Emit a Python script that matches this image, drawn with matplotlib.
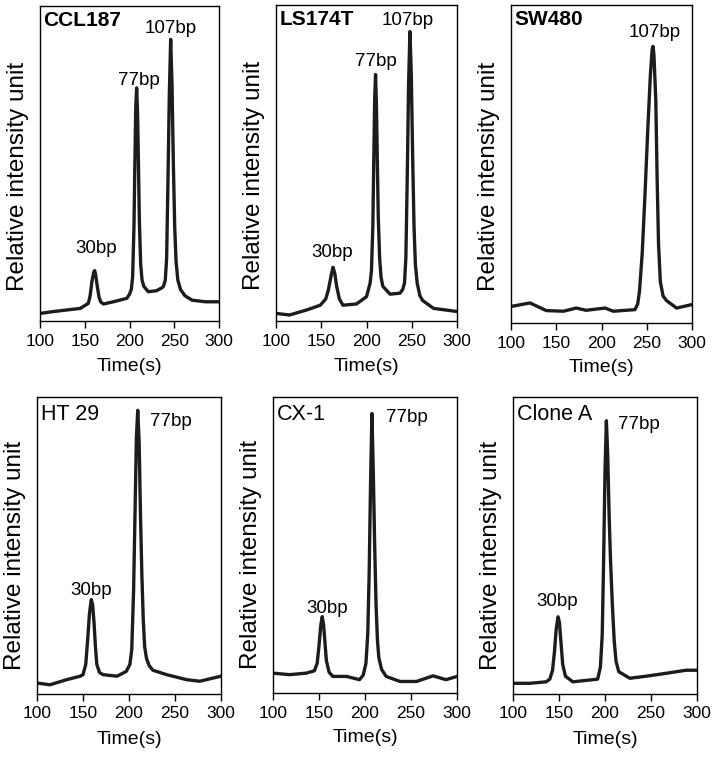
import matplotlib
matplotlib.use("Agg")
import matplotlib.pyplot as plt

plt.rcParams['font.family'] = ['Liberation Sans', 'DejaVu Sans']

# panel titles
names = ['CCL187', 'LS174T', 'SW480', 'HT 29', 'CX-1', 'Clone A']

# traces: time (s) and relative intensity (0..1 of panel height)
ccl187_t = [100, 115, 130, 145, 154, 156, 158, 160, 161, 162, 164, 166, 168, 171, 182,
            197, 200, 202, 203.5, 205, 206, 207, 208, 209, 210, 211, 212.5, 214, 216,
            221, 230, 236, 238, 240, 241.5, 243, 244.5, 246, 247.5, 249, 250.5, 252,
            254, 257, 262, 270, 285, 300]
ccl187_i = [0.024, 0.030, 0.035, 0.040, 0.056, 0.080, 0.125, 0.155, 0.160, 0.150, 0.110,
            0.075, 0.060, 0.054, 0.061, 0.072, 0.085, 0.100, 0.140, 0.300, 0.500, 0.680,
            0.740, 0.660, 0.500, 0.320, 0.180, 0.130, 0.110, 0.093, 0.096, 0.105, 0.110,
            0.130, 0.200, 0.450, 0.720, 0.894, 0.750, 0.500, 0.300, 0.190, 0.130, 0.100,
            0.080, 0.066, 0.061, 0.061]

ls174t_t = [100, 115, 134, 149, 155, 158, 161, 163, 165, 167, 170, 174, 189, 200, 204,
            205.5, 207, 208, 209, 210, 211, 212, 213, 214.5, 216, 218, 226, 237, 240,
            242, 243.5, 245, 246.5, 248, 249.5, 251, 252.5, 254, 256, 259, 262, 274, 300]
ls174t_i = [0.024, 0.019, 0.035, 0.050, 0.070, 0.100, 0.145, 0.170, 0.150, 0.110, 0.070,
            0.050, 0.054, 0.077, 0.120, 0.160, 0.300, 0.500, 0.700, 0.780, 0.680, 0.500,
            0.330, 0.200, 0.140, 0.110, 0.085, 0.088, 0.100, 0.120, 0.200, 0.450, 0.750,
            0.916, 0.780, 0.520, 0.300, 0.180, 0.120, 0.080, 0.065, 0.040, 0.030]

sw480_t = [100, 121, 139, 158, 172, 183, 204, 213, 237, 240, 242, 245, 248, 251, 254,
           256, 257, 258, 260, 261.5, 263, 265, 268, 272, 283, 300]
sw480_i = [0.052, 0.063, 0.039, 0.037, 0.047, 0.040, 0.047, 0.037, 0.042, 0.060, 0.100,
           0.220, 0.400, 0.600, 0.780, 0.860, 0.870, 0.840, 0.700, 0.450, 0.250, 0.130,
           0.085, 0.070, 0.047, 0.058]

ht29_t = [100, 114, 132, 147, 150, 153, 155, 157, 159, 160.5, 162, 163.5, 165, 168,
          172, 187, 197, 201, 203, 205, 206.5, 208, 209.5, 211, 212.5, 214, 215.5,
          217, 219, 222, 226, 241, 263, 277, 300]
ht29_i = [0.037, 0.031, 0.048, 0.060, 0.065, 0.100, 0.180, 0.270, 0.318, 0.300, 0.240,
          0.160, 0.100, 0.072, 0.065, 0.060, 0.076, 0.100, 0.150, 0.350, 0.600, 0.860,
          0.955, 0.850, 0.600, 0.400, 0.250, 0.160, 0.120, 0.095, 0.080, 0.065, 0.048,
          0.043, 0.060]

cx1_t = [100, 118, 136, 145, 148, 150, 152, 153.5, 155, 156.5, 158, 161, 165, 180, 194,
         198, 201, 203, 204.5, 206, 207.5, 209, 210.5, 212, 213.5, 215, 218, 223, 238,
         256, 274, 288, 300]
cx1_i = [0.067, 0.062, 0.067, 0.075, 0.100, 0.160, 0.230, 0.258, 0.230, 0.170, 0.110,
         0.070, 0.056, 0.056, 0.045, 0.060, 0.100, 0.200, 0.400, 0.700, 0.944, 0.750,
         0.500, 0.300, 0.180, 0.120, 0.080, 0.056, 0.039, 0.039, 0.058, 0.045, 0.056]

clonea_t = [100, 118, 136, 140, 143, 145, 147, 149, 150.5, 152, 154, 157, 165, 183,
            192, 195, 197, 198.5, 200, 201.5, 203, 204.5, 206, 208, 210, 212, 215, 227,
            245, 267, 288, 300]
clonea_i = [0.036, 0.036, 0.041, 0.050, 0.080, 0.140, 0.220, 0.260, 0.240, 0.180, 0.100,
            0.060, 0.041, 0.047, 0.050, 0.090, 0.200, 0.450, 0.750, 0.920, 0.800, 0.600,
            0.450, 0.300, 0.180, 0.110, 0.075, 0.053, 0.060, 0.070, 0.080, 0.080]

times = [ccl187_t, ls174t_t, sw480_t, ht29_t, cx1_t, clonea_t]
intensities = [ccl187_i, ls174t_i, sw480_i, ht29_i, cx1_i, clonea_i]

# peak labels: text, time, height
peak_labels = [
    [('30bp', 163, 0.23), ('77bp', 211, 0.765), ('107bp', 246, 0.93)],
    [('30bp', 162, 0.216), ('77bp', 210, 0.82), ('107bp', 246, 0.95)],
    [('107bp', 259, 0.915)],
    [('30bp', 159, 0.35), ('77bp', 245, 0.916)],
    [('30bp', 159, 0.287), ('77bp', 246, 0.93)],
    [('30bp', 148, 0.31), ('77bp', 237, 0.906)],
]

xticks = [100, 150, 200, 250, 300]

# axes boxes in pixels: left, top, right, bottom
boxes = [(40, 6, 219, 321), (276, 5, 457, 321), (511, 5, 692, 323),
         (37, 397, 221, 694), (273, 397, 457, 693), (513, 397, 697, 694)]
W, H = 722, 764

fig = plt.figure(figsize=(W / 100, H / 100), dpi=100)

for k in range(6):
    l, t, r, b = boxes[k]
    top_row = k < 3
    ax = fig.add_axes([l / W, 1 - b / H, (r - l) / W, (b - t) / H])
    ax.plot(times[k], intensities[k], color='#1c1c1c', lw=2.4,
            solid_joinstyle='round', solid_capstyle='round')
    ax.set_xlim(100, 300)
    ax.set_ylim(0, 1)
    ax.set_xticks(xticks)
    ax.set_yticks([])
    ax.tick_params(axis='x', length=5, width=1, pad=4, labelsize=12.5)
    for s in ax.spines.values():
        s.set_linewidth(1.0)

    ax.text(0.02, 0.955 if top_row else 0.94, names[k], transform=ax.transAxes,
            fontsize=15 if top_row else 15.5,
            fontweight='bold' if top_row else 'normal', va='center', ha='left')
    for txt, x, y in peak_labels[k]:
        ax.text(x, y, txt, fontsize=13.5, ha='center', va='center')

    ax.set_ylabel('Relative intensity unit', fontsize=17.5)
    ax.yaxis.set_label_coords(-22 / (r - l), 0.46 if top_row else 0.468)
    ax.yaxis.label.set_va('center')
    ax.set_xlabel('Time(s)', fontsize=14)
    ax.xaxis.set_label_coords(0.5, -45 / (b - t))
    ax.xaxis.label.set_va('center')

fig.savefig('out.png', dpi=100)
